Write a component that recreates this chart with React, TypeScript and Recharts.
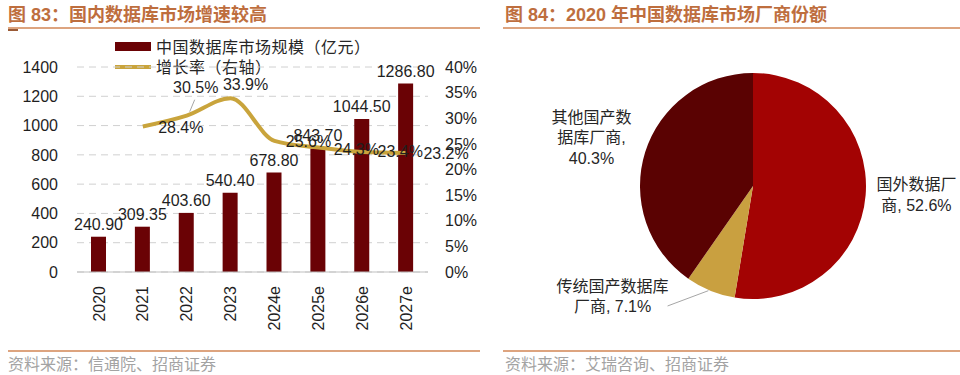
import React from "react";
import {
  Bar,
  CartesianGrid,
  Cell,
  ComposedChart,
  LabelList,
  Line,
  Pie,
  PieChart,
  XAxis,
  YAxis,
} from "recharts";

// left chart data
const years = ["2020", "2021", "2022", "2023", "2024e", "2025e", "2026e", "2027e"];
const marketSize = [240.9, 309.35, 403.6, 540.4, 678.8, 843.7, 1044.5, 1286.8];
const growthRate: (number | null)[] = [null, 28.4, 30.5, 33.9, 25.6, 24.3, 23.4, 23.2];
const sizeTicks = [0, 200, 400, 600, 800, 1000, 1200, 1400];
const rateTicks = [0, 5, 10, 15, 20, 25, 30, 35, 40];

// right chart data
const vendors = ["国外数据厂商", "传统国产数据库厂商", "其他国产数据库厂商"];
const vendorShare = [52.6, 7.1, 40.3];

const barData = years.map((year, i) => ({
  year,
  size: marketSize[i],
  rate: growthRate[i],
}));
const pieData = vendors.map((name, i) => ({ name, value: vendorShare[i] }));

const BAR_COLOR = "#6A0205";
const LINE_COLOR = "#C9A43C";
const PIE_COLORS = ["#A30303", "#C9A040", "#5A0202"];
const TITLE_COLOR = "#BE6E3E";
const RULE_COLOR = "#DDA47F";
const NUM_FONT = '"Liberation Sans", "Noto Sans CJK SC", sans-serif';
const CJK_FONT = '"Noto Sans CJK SC", sans-serif';

// label nudges (dx, dy) so the crowded growth labels sit like the original
const growthNudge = [
  [0, 0],
  [38, 1],
  [9, -28],
  [15, -14],
  [34, 1],
  [38, 2],
  [38, -1],
  [40, 0],
];
const pieNudge = [
  [1, -5],
  [-79, -41],
  [-6, 0],
];
const pieWrap = [5, 7, 5];

const isCjk = (c: string) => /[\u4e00-\u9fff]/.test(c);

const wrapLabel = (text: string, maxEm: number) => {
  const tokens = text.match(/[\u4e00-\u9fff][,，]?|\s*[^\s\u4e00-\u9fff]+/g) ?? [];
  const w = (s: string) => [...s].reduce((a, c) => a + (isCjk(c) ? 1 : 0.55), 0);
  const lines: string[] = [];
  let cur = "";
  for (const t of tokens) {
    if (cur && w(cur + t) > maxEm) {
      lines.push(cur);
      cur = t.trimStart();
    } else cur += t;
  }
  if (cur) lines.push(cur);
  return lines;
};

const YearTick = ({ x, y, payload }: any) => (
  <text
    x={x}
    y={y}
    transform={`rotate(-90, ${x}, ${y})`}
    textAnchor="end"
    dy="0.35em"
    fontSize={16}
    fontFamily={NUM_FONT}
    fill="#1f1f1f"
  >
    {payload.value}
  </text>
);

const GrowthLabel = ({ x, y, value, index }: any) => {
  if (value == null) return null;
  const [dx, dy] = growthNudge[index];
  return (
    <g>
      {index === 2 && (
        <line x1={x + 3} y1={y - 4} x2={x + 8} y2={y - 16} stroke="#A6A6A6" strokeWidth={1} />
      )}
      <text
        x={x + dx}
        y={y + dy}
        textAnchor="middle"
        dominantBaseline="central"
        fontSize={16}
        fontFamily={NUM_FONT}
        fill="#1f1f1f"
      >
        {`${Number(value).toFixed(1)}%`}
      </text>
    </g>
  );
};

const RAD = Math.PI / 180;

const PieLabel = ({ cx, cy, midAngle, outerRadius, index, name, value }: any) => {
  const r = outerRadius + 50;
  const [dx, dy] = pieNudge[index];
  const lx = cx + r * Math.cos(-midAngle * RAD) + dx;
  const ly = cy + r * Math.sin(-midAngle * RAD) + dy;
  const lines = wrapLabel(`${name}, ${value}%`, pieWrap[index]);
  const lh = 20.5;
  const top = ly - ((lines.length - 1) * lh) / 2;
  const ex = cx + outerRadius * Math.cos(-midAngle * RAD);
  const ey = cy + outerRadius * Math.sin(-midAngle * RAD);
  return (
    <g>
      {index === 1 && (
        <line x1={lx + 55} y1={ly + 10} x2={ex - 2} y2={ey} stroke="#A6A6A6" strokeWidth={1} />
      )}
      <text
        textAnchor="middle"
        dominantBaseline="central"
        fontSize={16}
        fontFamily={NUM_FONT}
        fill="#262626"
      >
        {lines.map((ln, i) => (
          <tspan key={i} x={lx} y={top + i * lh}>
            {ln}
          </tspan>
        ))}
      </text>
    </g>
  );
};

const Title = ({ left, text }: { left: number; text: string }) => (
  <div
    style={{
      position: "absolute",
      left,
      top: 3,
      fontFamily: NUM_FONT,
      fontWeight: 700,
      fontSize: 18,
      lineHeight: "24px",
      color: TITLE_COLOR,
      whiteSpace: "nowrap",
    }}
  >
    {text}
  </div>
);

const Rule = ({ left, width, top }: { left: number; width: number; top: number }) => (
  <div style={{ position: "absolute", left, top, width, height: 2, background: RULE_COLOR }} />
);

const Source = ({ left, text }: { left: number; text: string }) => (
  <div
    style={{
      position: "absolute",
      left,
      top: 353,
      fontFamily: CJK_FONT,
      fontSize: 16,
      lineHeight: "21px",
      color: "#A3A3A3",
      whiteSpace: "nowrap",
    }}
  >
    {text}
  </div>
);

const LegendText = ({ top, text }: { top: number; text: string }) => (
  <div
    style={{
      position: "absolute",
      left: 156,
      top,
      fontFamily: CJK_FONT,
      fontSize: 16,
      letterSpacing: 0.5,
      lineHeight: "16px",
      color: "#262626",
      whiteSpace: "nowrap",
    }}
  >
    {text}
  </div>
);

export default function App() {
  return (
    <div
      style={{
        position: "absolute",
        left: 0,
        top: 0,
        width: 960,
        height: 375,
        background: "#fff",
        overflow: "hidden",
      }}
    >
      <Title left={8} text="图 83：国内数据库市场增速较高" />
      <Title left={505} text="图 84：2020 年中国数据库市场厂商份额" />
      <Rule left={8} width={472} top={27} />
      <Rule left={503} width={457} top={27} />
      <div style={{ position: "absolute", left: 8, top: 29, width: 10, height: 2, background: "#9A5A36" }} />
      <Rule left={8} width={472} top={350} />
      <Rule left={503} width={457} top={350} />
      <Source left={8} text="资料来源：信通院、招商证券" />
      <Source left={505} text="资料来源：艾瑞咨询、招商证券" />

      {/* legend */}
      <div style={{ position: "absolute", left: 115, top: 42, width: 36, height: 9, background: BAR_COLOR }} />
      <div style={{ position: "absolute", left: 115, top: 65, width: 36, height: 4, background: LINE_COLOR }} />
      <LegendText top={38} text="中国数据库市场规模（亿元）" />
      <LegendText top={58} text="增长率（右轴）" />

      <div style={{ position: "absolute", left: 0, top: 0 }}>
        <ComposedChart
          width={480}
          height={375}
          data={barData}
          margin={{ top: 67, right: 0, bottom: 43, left: 17 }}
        >
          <CartesianGrid vertical={false} stroke="#D0D0D0" strokeDasharray="7 5" yAxisId="size" />
          <XAxis
            dataKey="year"
            height={60}
            tickLine={false}
            tickMargin={8}
            axisLine={{ stroke: "#BFBFBF" }}
            tick={<YearTick />}
            interval={0}
          />
          <YAxis
            yAxisId="size"
            width={60}
            domain={[0, 1400]}
            ticks={sizeTicks}
            axisLine={false}
            tickLine={false}
            tickMargin={13}
            tick={{ fontSize: 16, fontFamily: NUM_FONT, fill: "#1f1f1f" }}
          />
          <YAxis
            yAxisId="rate"
            orientation="right"
            width={52}
            domain={[0, 40]}
            ticks={rateTicks}
            axisLine={false}
            tickLine={false}
            tickMargin={11}
            tickFormatter={(v: number) => `${v}%`}
            tick={{ fontSize: 16, fontFamily: NUM_FONT, fill: "#1f1f1f", textAnchor: "start" }}
          />
          <Bar yAxisId="size" dataKey="size" fill={BAR_COLOR} barSize={15} isAnimationActive={false}>
            <LabelList
              dataKey="size"
              position="top"
              offset={7}
              formatter={(v: any) => Number(v).toFixed(2)}
              style={{ fontSize: 16, fontFamily: NUM_FONT, fill: "#1f1f1f" }}
            />
          </Bar>
          <Line
            yAxisId="rate"
            dataKey="rate"
            type="monotone"
            stroke={LINE_COLOR}
            strokeWidth={4}
            dot={false}
            isAnimationActive={false}
          >
            <LabelList dataKey="rate" content={<GrowthLabel />} />
          </Line>
        </ComposedChart>
      </div>

      <div style={{ position: "absolute", left: 490, top: 0 }}>
        <PieChart width={470} height={375}>
          <Pie
            data={pieData}
            dataKey="value"
            nameKey="name"
            cx={258}
            cy={181}
            outerRadius={113}
            startAngle={90}
            endAngle={-270}
            stroke="none"
            label={<PieLabel />}
            labelLine={false}
            isAnimationActive={false}
          >
            {pieData.map((d, i) => (
              <Cell key={d.name} fill={PIE_COLORS[i]} />
            ))}
          </Pie>
        </PieChart>
      </div>
    </div>
  );
}
